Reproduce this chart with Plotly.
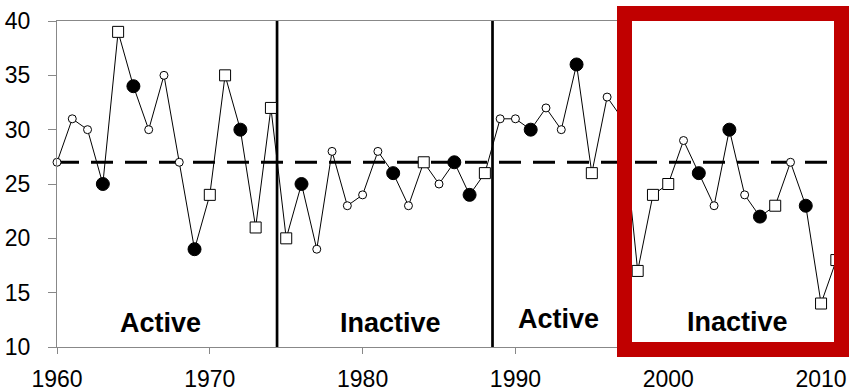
import plotly.graph_objects as go

years = list(range(1960, 2012))
values = [27, 31, 30, 25, 39, 34, 30, 35, 27, 19,
          24, 35, 30, 21, 32, 20, 25, 19, 28, 23,
          24, 28, 26, 23, 27, 25, 27, 24, 26, 31,
          31, 30, 32, 30, 36, 26, 33, 31, 17, 24,
          25, 29, 26, 23, 30, 24, 22, 23, 27, 23,
          14, 18]
# marker kind per year: o = open circle, f = filled circle, s = open square
kinds = ["o", "o", "o", "f", "s", "f", "o", "o", "o", "f",
         "s", "s", "f", "s", "s", "s", "f", "o", "o", "o",
         "o", "o", "f", "o", "s", "o", "f", "f", "s", "o",
         "o", "f", "o", "o", "f", "s", "o", "o", "s", "s",
         "s", "o", "f", "o", "f", "o", "f", "s", "o", "f",
         "s", "s"]
mean_value = 27
phase_breaks = [1974.4, 1988.5]
phase_labels = ["Active", "Inactive", "Active", "Inactive"]
phase_label_x = [1966.8, 1981.8, 1992.8, 2004.5]
phase_label_y = [12.2, 12.25, 12.6, 12.3]
x_ticks = [1960, 1970, 1980, 1990, 2000, 2010]
y_ticks = [10, 15, 20, 25, 30, 35, 40]

W, H = 851, 392
L, R, T, B = 57, 11, 21, 45
xr = [1960, 2011.24]
yr = [10, 40]

fig = go.Figure()

# dashed mean line
fig.add_trace(go.Scatter(x=[1960, xr[1]], y=[mean_value, mean_value], mode="lines",
                         line=dict(color="black", width=3, dash="22px,12px"),
                         hoverinfo="skip", showlegend=False, cliponaxis=False))
# phase separators
for xb in phase_breaks:
    fig.add_trace(go.Scatter(x=[xb, xb], y=yr, mode="lines",
                             line=dict(color="black", width=2.7),
                             hoverinfo="skip", showlegend=False))
# connecting line
fig.add_trace(go.Scatter(x=years, y=values, mode="lines",
                         line=dict(color="black", width=1),
                         showlegend=False, cliponaxis=False))

styles = {
    "o": dict(symbol="circle", size=8, color="white", line=dict(color="black", width=1)),
    "f": dict(symbol="circle", size=13, color="black", line=dict(color="black", width=1)),
    "s": dict(symbol="square", size=11, color="white", line=dict(color="black", width=1)),
}
for k in ["o", "f", "s"]:
    xs = [y for y, kk in zip(years, kinds) if kk == k]
    vs = [v for v, kk in zip(values, kinds) if kk == k]
    fig.add_trace(go.Scatter(x=xs, y=vs, mode="markers", marker=styles[k],
                             showlegend=False, cliponaxis=False))

for txt, lx, ly in zip(phase_labels, phase_label_x, phase_label_y):
    fig.add_annotation(x=lx, y=ly, text="<b>%s</b>" % txt, showarrow=False,
                       font=dict(family="Liberation Sans, Arial", size=27, color="black"),
                       xanchor="center", yanchor="middle")

# red highlight box (pixel-based, converted to paper coords)
pw = W - L - R
ph = H - T - B
def px2paper_x(px):
    return (px - L) / pw
def py2paper_y(py):
    return 1 - (py - T) / ph
fig.add_shape(type="rect", xref="paper", yref="paper",
              x0=px2paper_x(624.5), x1=px2paper_x(841.5),
              y0=py2paper_y(349.5), y1=py2paper_y(13.5),
              line=dict(color="#C00000", width=15), fillcolor="rgba(0,0,0,0)",
              layer="above")

fig.update_layout(
    width=W, height=H,
    margin=dict(l=L, r=R, t=T, b=B, pad=0, autoexpand=False),
    paper_bgcolor="white", plot_bgcolor="white",
    font=dict(family="Liberation Sans, Arial", color="black"),
    xaxis=dict(range=xr, tickvals=x_ticks, ticks="outside", ticklen=6,
               tickcolor="#888888", showgrid=False, zeroline=False,
               showline=True, linecolor="#888888", linewidth=1, mirror=True,
               tickfont=dict(size=23), ticklabelstandoff=5, automargin=False),
    yaxis=dict(range=yr, tickvals=y_ticks, ticks="outside", ticklen=8,
               tickcolor="#888888", showgrid=False, zeroline=False,
               showline=True, linecolor="#888888", linewidth=1, mirror=True,
               tickfont=dict(size=23), ticklabelstandoff=13, automargin=False),
)

fig.write_html("out.html")
